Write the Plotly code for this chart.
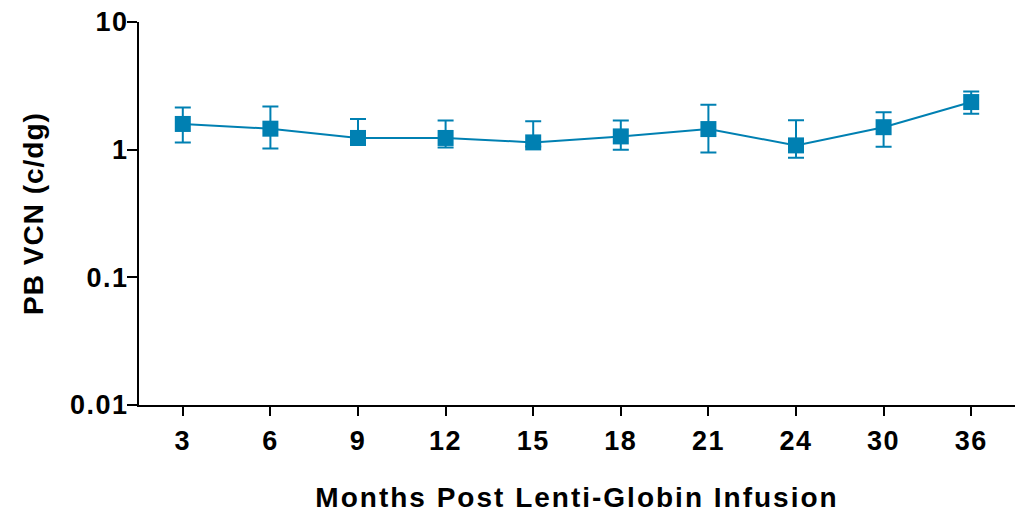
import plotly.graph_objects as go

months = ["3", "6", "9", "12", "15", "18", "21", "24", "30", "36"]
vcn = [1.59, 1.46, 1.235, 1.235, 1.14, 1.27, 1.45, 1.08, 1.50, 2.36]
err_upper = [2.14, 2.18, 1.74, 1.69, 1.67, 1.69, 2.25, 1.70, 1.96, 2.85]
err_lower = [1.14, 1.02, 1.09, 1.04, 1.06, 1.00, 0.95, 0.866, 1.055, 1.91]

y_ticks = [0.01, 0.1, 1, 10]
y_ticktext = ["0.01", "0.1", "1", "10"]

color = "#0080B2"

fig = go.Figure()
fig.add_trace(go.Scatter(
    x=months, y=vcn,
    mode="lines+markers",
    line=dict(color=color, width=2),
    marker=dict(symbol="square", size=16, color=color),
    error_y=dict(
        type="data", symmetric=False,
        array=[u - v for u, v in zip(err_upper, vcn)],
        arrayminus=[v - l for v, l in zip(vcn, err_lower)],
        color=color, thickness=2, width=8,
    ),
    showlegend=False,
))

font_family = "Liberation Sans, Arial, sans-serif"
# page body has an 8px default margin, so the figure is sized to fit inside it
fig.update_layout(
    width=1017, height=505,
    margin=dict(l=131, r=10, t=14, b=108, autoexpand=False),
    plot_bgcolor="white", paper_bgcolor="white",
    font=dict(family=font_family, color="black"),
    xaxis=dict(
        type="category",
        range=[-0.5, 9.5],
        automargin=False,
        showline=True, linecolor="black", linewidth=2,
        ticks="outside", ticklen=9, tickwidth=2, tickcolor="black",
        tickfont=dict(size=27, weight="bold", family=font_family),
        ticklabelstandoff=2,
        ticklabeloverflow="allow",
        showgrid=False, zeroline=False,
        title=dict(text="Months Post Lenti-Globin Infusion",
                   font=dict(size=28, weight="bold", family=font_family),
                   standoff=33),
    ),
    yaxis=dict(
        type="log",
        range=[-2, 1],
        automargin=False,
        tickvals=y_ticks, ticktext=y_ticktext,
        showline=True, linecolor="black", linewidth=2,
        ticks="outside", ticklen=10, tickwidth=2, tickcolor="black",
        tickfont=dict(size=27, weight="bold", family=font_family),
        ticklabelstandoff=-7,
        ticklabeloverflow="allow",
        showgrid=False, zeroline=False,
        title=dict(text="PB VCN (c/dg)",
                   font=dict(size=28, weight="bold", family=font_family),
                   standoff=24),
    ),
)

post = """
document.querySelectorAll('.xtitle').forEach(function(e){e.style.letterSpacing='2px';});
document.querySelectorAll('.ytitle').forEach(function(e){e.style.letterSpacing='1px';});
document.querySelectorAll('.xtick text, .ytick text').forEach(function(e){e.style.letterSpacing='1.5px';});
"""
fig.write_html("out.html", post_script=post)
